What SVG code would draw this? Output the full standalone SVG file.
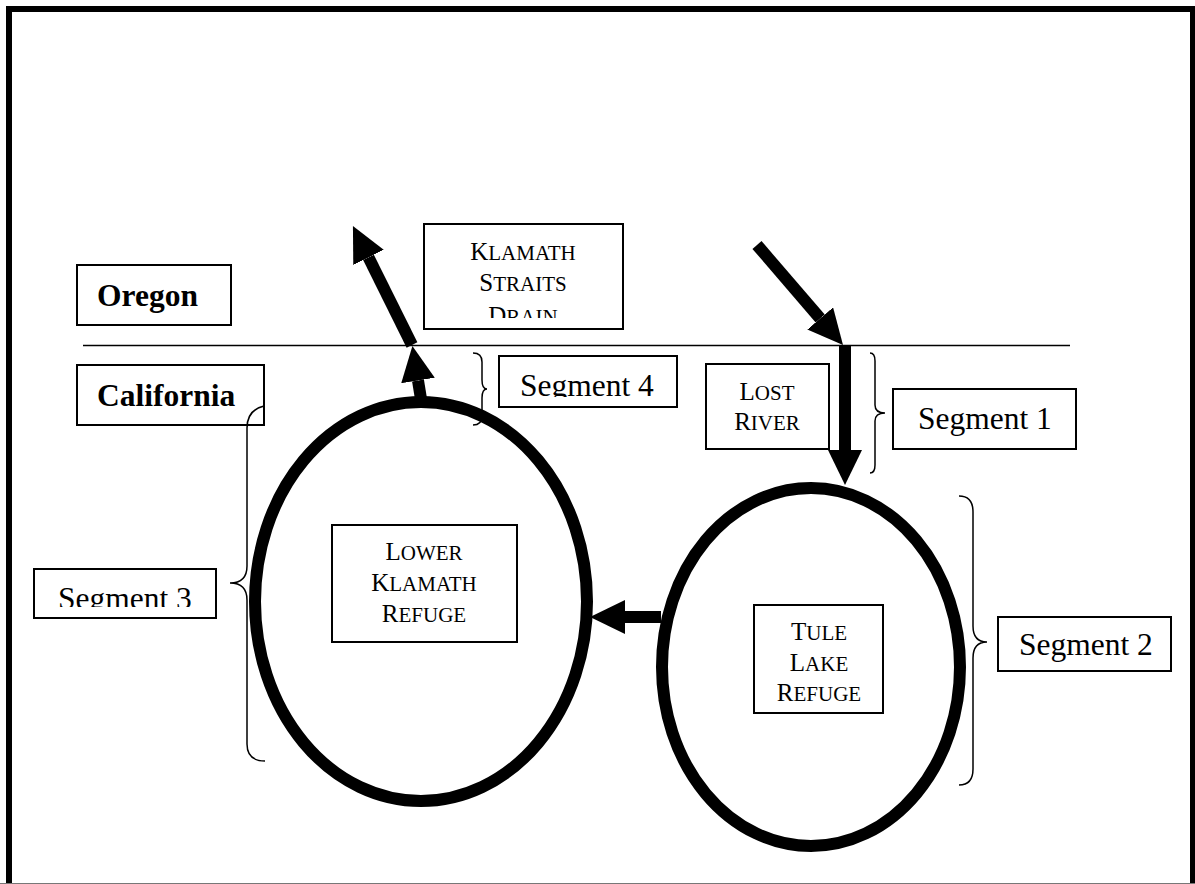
<svg xmlns="http://www.w3.org/2000/svg" width="1195" height="884" viewBox="0 0 1195 884">
<style>
.box{fill:#fff;stroke:#000;stroke-width:2}
.t{font-family:"Liberation Serif","Times New Roman",serif;fill:#000}
.seg{font-size:31.5px}
.bold{font-size:31.5px;font-weight:bold}
.big{font-size:25px}
.sm{font-size:21px}
.brace{fill:none;stroke:#000;stroke-width:1.5}
.lake{fill:none;stroke:#000;stroke-width:12}
.arrow{fill:none;stroke:#000;stroke-width:12;marker-end:url(#ah)}
</style>
<defs>
<marker id="ah" viewBox="0 0 35 34" markerWidth="35" markerHeight="34" refX="0" refY="17" orient="auto" markerUnits="userSpaceOnUse">
<path d="M0,0 L35,17 L0,34 z" fill="#000"/>
</marker>
<clipPath id="cKSD"><rect x="424" y="224" width="199" height="94"/></clipPath>
<clipPath id="cS4"><rect x="499" y="356" width="178" height="41"/></clipPath>
<clipPath id="cS3"><rect x="34" y="569" width="182" height="38"/></clipPath>
</defs>
<rect width="1195" height="884" fill="#fff"/>
<rect x="9" y="9" width="1184" height="880" fill="none" stroke="#000" stroke-width="6"/>
<line x1="0" y1="883.5" x2="1195" y2="883.5" stroke="#777" stroke-width="1"/>
<line id="border-line" x1="83" y1="345.5" x2="1070" y2="345.5" stroke="#000" stroke-width="1.5"/>

<g id="lower-klamath-lake"><ellipse class="lake" cx="421" cy="601.5" rx="166" ry="199.5"/></g>
<g id="tule-lake"><ellipse class="lake" cx="811" cy="667" rx="149" ry="179"/></g>

<g id="connectors">
<path class="arrow" d="M757,245 L820.2,318.5"/>
<path class="arrow" d="M845,345 L845,450"/>
<path class="arrow" d="M421,399 L418,380.5"/>
<path class="arrow" d="M412,345 L368.5,257.4"/>
<path class="arrow" d="M661,617 L625,617"/>
</g>

<g id="oregon"><rect class="box" x="77" y="265" width="154" height="60"/><text class="t bold" x="97" y="306">Oregon</text></g>
<g id="california"><rect class="box" x="77" y="365" width="187" height="60"/><text class="t bold" x="97" y="406">California</text></g>

<g id="klamath-straits-drain"><rect class="box" x="424" y="224" width="199" height="105"/>
<g clip-path="url(#cKSD)">
<text class="t" x="523" y="260" text-anchor="middle"><tspan class="big">K</tspan><tspan class="sm">LAMATH</tspan></text>
<text class="t" x="523" y="291" text-anchor="middle"><tspan class="big">S</tspan><tspan class="sm">TRAITS</tspan></text>
<text class="t" x="523" y="324" text-anchor="middle"><tspan class="big">D</tspan><tspan class="sm">RAIN</tspan></text>
</g></g>

<g id="segment4"><rect class="box" x="499" y="356" width="178" height="51"/><text class="t seg" x="520" y="396" clip-path="url(#cS4)">Segment 4</text>
<path class="brace" d="M473,353 Q482,353 482,362 L482,380 Q482,389 487,389 Q482,389 482,398 L482,416 Q482,425 473,425"/></g>

<g id="lost-river"><rect class="box" x="706" y="364" width="123" height="85"/>
<text class="t" x="767" y="400" text-anchor="middle"><tspan class="big">L</tspan><tspan class="sm">OST</tspan></text>
<text class="t" x="767" y="430" text-anchor="middle"><tspan class="big">R</tspan><tspan class="sm">IVER</tspan></text></g>

<g id="segment1"><rect class="box" x="893" y="389" width="183" height="60"/><text class="t seg" x="918" y="429">Segment 1</text>
<path class="brace" d="M870,353 Q875,353 875,361 L875,405 Q875,413 885,413 Q875,413 875,421 L875,465 Q875,473 870,473"/></g>

<g id="lower-klamath-refuge"><rect class="box" x="332" y="525" width="185" height="117"/>
<text class="t" x="424" y="560" text-anchor="middle"><tspan class="big">L</tspan><tspan class="sm">OWER</tspan></text>
<text class="t" x="424" y="591" text-anchor="middle"><tspan class="big">K</tspan><tspan class="sm">LAMATH</tspan></text>
<text class="t" x="424" y="622" text-anchor="middle"><tspan class="big">R</tspan><tspan class="sm">EFUGE</tspan></text></g>

<g id="segment3"><rect class="box" x="34" y="569" width="182" height="49"/><text class="t seg" x="58" y="609" clip-path="url(#cS3)">Segment 3</text>
<path class="brace" d="M264,406 Q247,410 247,428 L247,566 Q247,583 230,583 Q247,583 247,600 L247,744 Q247,761 265,761"/></g>

<g id="tule-lake-refuge"><rect class="box" x="754" y="605" width="129" height="108"/>
<text class="t" x="819" y="640" text-anchor="middle"><tspan class="big">T</tspan><tspan class="sm">ULE</tspan></text>
<text class="t" x="819" y="671" text-anchor="middle"><tspan class="big">L</tspan><tspan class="sm">AKE</tspan></text>
<text class="t" x="819" y="701" text-anchor="middle"><tspan class="big">R</tspan><tspan class="sm">EFUGE</tspan></text></g>

<g id="segment2"><rect class="box" x="998" y="617" width="173" height="54"/><text class="t seg" x="1019" y="655">Segment 2</text>
<path class="brace" d="M959,496 Q973,496 973,512 L973,626 Q973,642 987,642 Q973,642 973,658 L973,769 Q973,785 959,785"/></g>
</svg>
